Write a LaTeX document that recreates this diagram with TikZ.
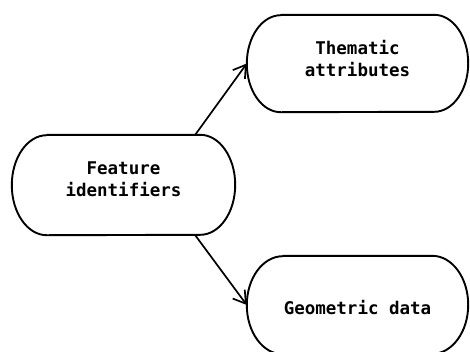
\documentclass[tikz,border=0pt]{standalone}
\usepackage{fontspec}
\setmonofont{DejaVu Sans Mono}
\usetikzlibrary{arrows.meta}

% outline of a pill-shaped box: flat top and bottom, elliptical ends
% #1 node name, #2 horizontal radius of the ends, #3 half height
\newcommand\pilloutline[3]{%
  \draw[outline] ([xshift=#2]#1.north west) -- ([xshift=-#2]#1.north east)
    arc[start angle=90,end angle=-90,x radius=#2,y radius=#3]
    -- ([xshift=#2]#1.south west)
    arc[start angle=270,end angle=90,x radius=#2,y radius=#3] -- cycle;}

\begin{document}
\begin{tikzpicture}[x=1pt,y=-1pt,
  txt/.style={font=\ttfamily\bfseries\fontsize{17.5}{21.5}\selectfont, align=center, inner sep=0pt},
  pill/.style={rectangle, draw=none, inner sep=0pt},
  outline/.style={line width=1.9pt, line join=round},
  link/.style={line width=1.7pt, -{Straight Barb[length=12pt,width=15pt,line width=1.7pt]}}]
\useasboundingbox[fill=white] (0,0) rectangle (470,351);

\node[pill, minimum width=223pt, minimum height=100pt,
      label={[txt, yshift=6pt]center:{Feature\\identifiers}}] (fi) at (123.5,185) {};
\node[pill, minimum width=221pt, minimum height=97pt,
      label={[txt, yshift=5pt]center:{Thematic\\attributes}}] (ta) at (357.5,63.5) {};
\node[pill, minimum width=221pt, minimum height=98pt,
      label={[txt, yshift=-3pt]center:{Geometric data}}] (gd) at (357.5,305) {};

\pilloutline{fi}{35pt}{50pt}
\pilloutline{ta}{34pt}{48.5pt}
\pilloutline{gd}{36pt}{49pt}

\draw[link] ([xshift=-40pt]fi.north east) -- (ta.west);
\draw[link] ([xshift=-40pt]fi.south east) -- (gd.west);
\end{tikzpicture}
\end{document}
